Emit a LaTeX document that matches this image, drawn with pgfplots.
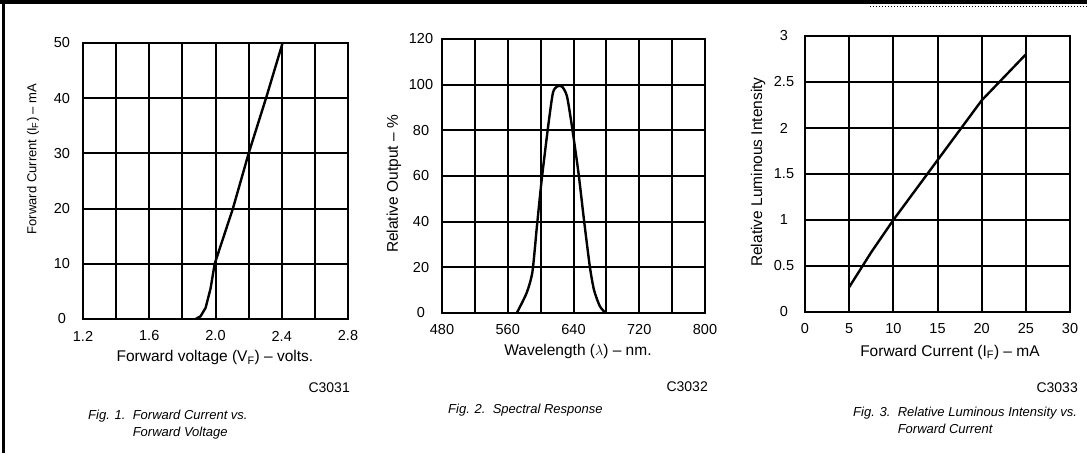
\documentclass[border=0pt]{standalone}
\usepackage{pgfplots}
\pgfplotsset{compat=1.18}
\usepackage{fontspec}
\setmainfont{Liberation Sans}

% datasheet style: heavy grid, no tick marks, labels set off the frame
\pgfplotsset{
  sheet/.style={
    scale only axis,
    enlargelimits=false,
    axis line style={line width=2.6pt},
    grid=major,
    major grid style={line width=2pt, black},
    major tick length=0pt,
    tick label style={font=\fontsize{14.5}{14.5}\selectfont},
    yticklabel style={anchor=center, xshift=-21pt},
    xticklabel style={anchor=center, yshift=-17pt},
    label style={font=\fontsize{15.5}{15.5}\selectfont},
    ylabel style={anchor=center},
    xlabel style={anchor=center},
    /pgf/number format/assume math mode=true,
  },
  curve/.style={black, line width=2.4pt, mark=none},
}

\begin{document}
\begin{tikzpicture}[x=1pt,y=1pt]
\path[use as bounding box] (0,0) rectangle (1087,453);
% page frame of the scanned sheet
\fill (0,449) rectangle (1087,453);
\fill (2,0) rectangle (5,453);
\draw[dotted, line width=1pt] (870,446) -- (1087,446);

% Fig. 1
\begin{axis}[sheet,
  at={(83pt,134pt)}, anchor=south west,
  width=265pt, height=276pt,
  xmin=1.2, xmax=2.8, ymin=0, ymax=50,
  xtick={1.2,1.4,1.6,1.8,2.0,2.2,2.4,2.6,2.8},
  xticklabels={1.2,,1.6,,2.0,,2.4,,2.8},
  ytick={0,10,20,30,40,50},
  xlabel={Forward voltage (V\textsubscript{F}) -- volts.},
  ylabel={Forward Current (I\textsubscript{F}) -- mA},
  xlabel style={at={(axis description cs:0.498,-0.141)}},
  ylabel style={at={(axis description cs:-0.189,0.58)},
    font=\fontsize{13}{13}\selectfont},
]
\addplot[curve] coordinates {
  (1.88,0) (1.91,0.5) (1.94,2) (1.97,5.5) (1.995,10)
  (2.105,20) (2.2,30) (2.305,40) (2.405,50)
};
\end{axis}

% Fig. 2
\begin{axis}[sheet,
  at={(442pt,140pt)}, anchor=south west,
  width=263pt, height=274pt,
  xmin=480, xmax=800, ymin=0, ymax=120,
  xtick={480,520,560,600,640,680,720,760,800},
  xticklabels={480,,560,,640,,720,,800},
  ytick={0,20,40,60,80,100,120},
  xlabel={Wavelength ($\lambda$) -- nm.},
  ylabel={Relative Output -- \%},
  xlabel style={at={(axis description cs:0.517,-0.142)}},
  ylabel style={at={(axis description cs:-0.183,0.471)}},
]
\addplot[curve, smooth, tension=0.4] coordinates {
  (571,0) (583,8.8) (590,18) (595.5,38) (601.5,59) (609.6,83)
  (615,96.5) (620,99.2) (626,99.2) (632,95) (638,82) (646,61.5)
  (653,40) (660,20) (665,10) (672,3) (679,0)
};
\end{axis}

% Fig. 3
\begin{axis}[sheet,
  at={(805pt,141pt)}, anchor=south west,
  width=265pt, height=276pt,
  xmin=0, xmax=30, ymin=0, ymax=3,
  xtick={0,5,10,15,20,25,30},
  ytick={0,0.5,1,1.5,2,2.5,3},
  yticklabels={0,0.5,1,1.5,2,2.5,3},
  xlabel={Forward Current (I\textsubscript{F}) -- mA},
  ylabel={Relative Luminous Intensity},
  xlabel style={at={(axis description cs:0.547,-0.145)}},
  ylabel style={at={(axis description cs:-0.177,0.507)}},
]
\addplot[curve] coordinates {
  (5,0.27) (7.5,0.65) (10,1.0) (15,1.65) (20,2.3) (25,2.8)
};
\end{axis}

% drawing numbers and captions
\begin{scope}[every node/.style={inner sep=0pt, font=\fontsize{14}{14}\selectfont}]
\node[anchor=east] at (350,65) {C3031};
\node[anchor=east] at (708,66) {C3032};
\node[anchor=east] at (1078,65) {C3033};
\end{scope}
\begin{scope}[every node/.style={inner sep=0pt, anchor=north west, align=left,
    font=\fontsize{13}{16.5}\selectfont\itshape}]
\node at (88,43) {Fig. 1.\ \ Forward Current vs.\\\phantom{Fig. 1.\ \ }Forward Voltage};
\node at (448,49) {Fig. 2.\ \ Spectral Response};
\node at (853,46) {Fig. 3.\ \ Relative Luminous Intensity vs.\\\phantom{Fig. 3.\ \ }Forward Current};
\end{scope}
\end{tikzpicture}
\end{document}
